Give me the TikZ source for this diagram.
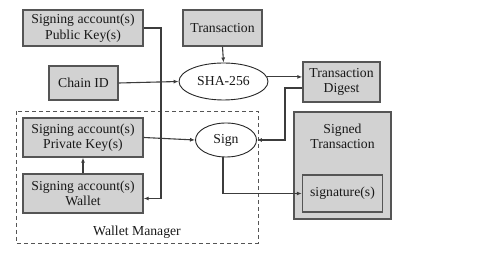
\documentclass[tikz,border=0pt]{standalone}
\usepackage{fontspec}
\setmainfont{Liberation Serif}
\usepackage{xcolor}
\usepackage{tikz}
\usetikzlibrary{arrows.meta,positioning,calc,shapes.geometric}
\definecolor{boxgray}{RGB}{210,210,210}
\definecolor{edgegray}{RGB}{85,85,85}
\definecolor{linegray}{RGB}{60,60,60}

\begin{document}
\begin{tikzpicture}[
  x=1pt, y=-1pt,
  every node/.style={font=\fontsize{13.7}{15.5}\selectfont, text=black!90, inner sep=0pt, align=center},
  blk/.style={rectangle, draw=edgegray, line width=1.4pt, fill=boxgray},
  oval/.style={ellipse, draw=black!85, line width=0.9pt, fill=white},
  link/.style={draw=linegray, line width=1.1pt, -{Latex[length=5pt,width=4pt]}}
]
  \useasboundingbox (0,0) rectangle (477,253);

  % wallet manager frame
  \draw[edgegray, line width=0.9pt, dash pattern=on 4pt off 3pt] (16,111) rectangle (258,243);
  \node (mgr) at (137,232) {Wallet Manager};

  \node[blk, minimum width=120, minimum height=36] (pub) at (83,28) {Signing account(s)\\Public Key(s)};
  \node[blk, minimum width=79, minimum height=36] (tx) at (222.5,28) {Transaction};
  \node[blk, minimum width=69, minimum height=34] (chain) at (83.5,83) {Chain ID};
  \node[oval, minimum width=89, minimum height=37] (sha) at (223.5,81.5) {SHA-256};
  \node[blk, minimum width=77, minimum height=40] (digest) at (341.5,82) {Transaction\\Digest};
  \node[blk, minimum width=120, minimum height=39] (priv) at (83,137.5) {Signing account(s)\\Private Key(s)};
  \node[blk, minimum width=120, minimum height=39] (wallet) at (83,193.5) {Signing account(s)\\Wallet};
  \node[oval, minimum width=61, minimum height=34] (sign) at (226,140) {Sign};
  \node[blk, minimum width=97, minimum height=107,
    label={[anchor=north, yshift=-12pt, align=center]north:Signed\\Transaction}] (signed) at (342.5,165.5) {};
  \node[blk, minimum width=80, minimum height=37] (sig) at (342.5,193.5) {signature(s)};

  \coordinate (bus) at (161,100);
  \coordinate (elbow) at (285,110);

  \draw[link] (pub.east) -| (bus) |- ([yshift=-5pt]wallet.east);
  \draw[link] (tx.south) -- (sha.north);
  \draw[link] (chain.east) -- (sha.west);
  \draw[link] (sha.6) -- (sha.6 -| digest.west);
  \draw[link] ([yshift=-6pt]digest.west) -| (elbow) |- (sign.east);
  \draw[link] (priv.east) -- (sign.west);
  \draw[link] (wallet.north) -- (priv.south);
  \draw[link] ([xshift=-3pt]sign.south) |- (sig.west);
\end{tikzpicture}
\end{document}
